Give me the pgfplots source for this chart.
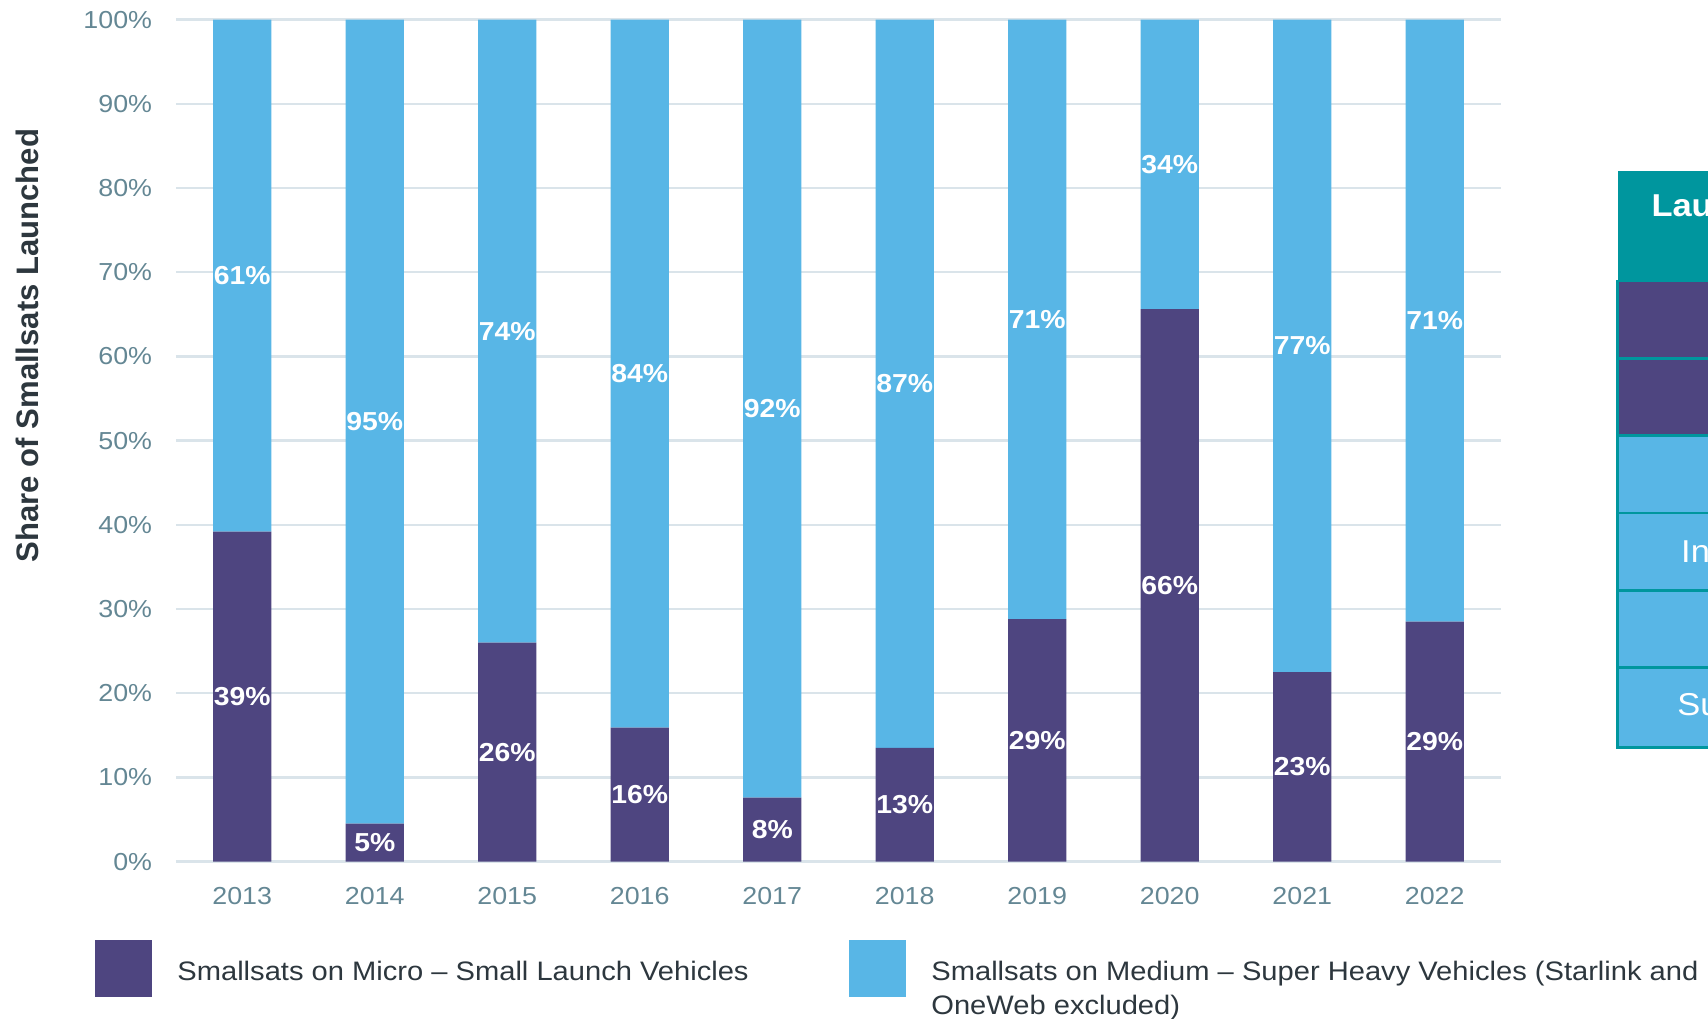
\documentclass[border=0pt]{standalone}
\usepackage{fontspec}
\setmainfont{Liberation Sans}[FakeStretch=1.09]
\newfontfamily\plainsans{Liberation Sans}
\usepackage{pgfplots}
\pgfplotsset{compat=1.18}

\definecolor{micro}{RGB}{78,69,128}
\definecolor{medium}{RGB}{88,182,230}
\definecolor{tealc}{RGB}{0,150,158}
\definecolor{tickc}{RGB}{100,135,148}
\definecolor{gridc}{RGB}{218,228,234}
\definecolor{darktxt}{RGB}{45,55,62}

\begin{document}
\begin{tikzpicture}
\useasboundingbox (0,0) rectangle (170.8mm,101.9mm);
\clip (0,0) rectangle (170.8mm,101.9mm);

% stacked shares
\begin{axis}[
  at={(17.6mm,15.74mm)}, anchor=south west,
  scale only axis, width=132.5mm, height=84.2mm,
  ybar stacked, bar width=0.44,
  xmin=-0.5, xmax=9.5, ymin=0, ymax=100,
  xtick={0,1,2,3,4,5,6,7,8,9},
  xticklabels={2013,2014,2015,2016,2017,2018,2019,2020,2021,2022},
  ytick={0,10,20,30,40,50,60,70,80,90,100},
  yticklabels={0\%,10\%,20\%,30\%,40\%,50\%,60\%,70\%,80\%,90\%,100\%},
  ticklabel style={font=\fontsize{7}{8}\selectfont, text=tickc},
  yticklabel style={xshift=-1.15mm},
  xticklabel style={yshift=-1.3mm},
  major tick length=0pt,
  axis line style={draw=none},
  ymajorgrids, grid style={gridc, line width=0.25mm},
  legend columns=2,
  legend style={at={(-0.0619,-0.0919)}, anchor=north west, draw=none, fill=none, inner sep=0pt,
    cells={anchor=west, align=left, font=\fontsize{7.6}{9.6}\selectfont, text=darktxt},
    /tikz/every odd column/.append style={column sep=1.87mm},
    /tikz/every even column/.append style={column sep=9.3mm}},
  legend image code/.code={\fill[#1] (0mm,-0.65mm) rectangle (5.7mm,5.05mm);},
]
\addplot[fill=micro, draw=none] coordinates {(0,39.2) (1,4.5) (2,26.0) (3,15.9) (4,7.6) (5,13.5) (6,28.8) (7,65.6) (8,22.5) (9,28.5)};
\addplot[fill=medium, draw=none] coordinates {(0,60.8) (1,95.5) (2,74.0) (3,84.1) (4,92.4) (5,86.5) (6,71.2) (7,34.4) (8,77.5) (9,71.5)};
\legend{Smallsats on Micro -- Small Launch Vehicles\\\strut,
        Smallsats on Medium -- Super Heavy Vehicles (Starlink and\\OneWeb excluded)\strut}
\end{axis}

% value labels, centred in each segment
\begin{axis}[
  at={(17.6mm,15.74mm)}, anchor=south west,
  scale only axis, width=132.5mm, height=84.2mm,
  xmin=-0.5, xmax=9.5, ymin=0, ymax=100, hide axis,
  nodes near coords, point meta=explicit symbolic,
  nodes near coords style={anchor=center, font=\bfseries\fontsize{7.4}{8}\selectfont, text=white},
]
\addplot[draw=none, mark=none] coordinates {
  (0,19.6) [39\%] (1,2.25) [5\%] (2,13.0) [26\%] (3,7.95) [16\%] (4,3.8) [8\%]
  (5,6.75) [13\%] (6,14.4) [29\%] (7,32.8) [66\%] (8,11.25) [23\%] (9,14.25) [29\%]};
\addplot[draw=none, mark=none] coordinates {
  (0,69.6) [61\%] (1,52.25) [95\%] (2,63.0) [74\%] (3,57.95) [84\%] (4,53.8) [92\%]
  (5,56.75) [87\%] (6,64.4) [71\%] (7,82.8) [34\%] (8,61.25) [77\%] (9,64.25) [71\%]};
\end{axis}

\node[rotate=90, font=\plainsans\bfseries\fontsize{8.84}{10}\selectfont, text=darktxt]
  at (2.75mm,67.35mm) {Share of Smallsats Launched};

% launch vehicle class table (cut off at the right edge)
\fill[tealc] (161.76mm,73.8mm) rectangle (180mm,84.8mm);
\foreach \ya/\yb/\c in {73.8/66.06/micro, 66.06/58.33/micro, 58.33/50.6/medium,
                        50.6/42.86/medium, 42.86/35.13/medium, 35.13/27.17/medium}
  \filldraw[fill=\c, draw=tealc, line width=0.25mm] (161.76mm,\yb mm) rectangle (180mm,\ya mm);
\node[font=\bfseries\fontsize{9}{10}\selectfont, text=white] at (177.7mm,81.4mm) {Launch Vehicle};
\node[font=\bfseries\fontsize{9}{10}\selectfont, text=white] at (177.7mm,77.4mm) {(to LEO)};
\foreach \y/\t in {69.93/Micro, 62.2/Small, 54.47/Medium, 46.73/Intermediate, 39.0/Heavy, 31.15/Super Heavy}
  \node[font=\fontsize{9}{10}\selectfont, text=white] at (177.7mm,\y mm) {\t};
\end{tikzpicture}
\end{document}
